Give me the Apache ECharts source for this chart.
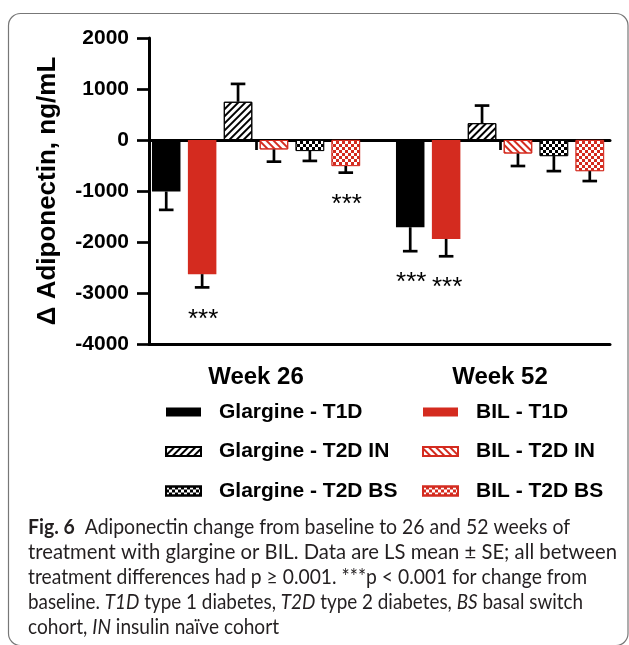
<!DOCTYPE html>
<html lang="en">
<head>
<meta charset="UTF-8">
<title>Adiponectin change</title>
<style>
  html, body { margin: 0; padding: 0; background: #fff; }
  #chart { width: 629px; height: 645px; }
</style>
</head>
<body>
<div id="chart"></div>
<script src="https://cdn.jsdelivr.net/npm/echarts@6/dist/echarts.min.js"></script>
<script>
// categories
const weeks = ['Week 26', 'Week 52'];
const groups = ['Glargine - T1D', 'BIL - T1D', 'Glargine - T2D IN', 'BIL - T2D IN', 'Glargine - T2D BS', 'BIL - T2D BS'];

// LS mean change from baseline, ng/mL  [week 26, week 52]
const glaT1D = [-1010, -1710];
const bilT1D = [-2630, -1940];
const glaIN  = [750, 330];
const bilIN  = [-185, -265];
const glaBS  = [-215, -315];
const bilBS  = [-510, -610];

// standard errors
const seGlaT1D = [360, 470];
const seBilT1D = [260, 340];
const seGlaIN  = [350, 345];
const seBilIN  = [240, 245];
const seGlaBS  = [195, 295];
const seBilBS  = [130, 195];

// *** p < 0.001 vs baseline
const sigGlaT1D = [0, 1];
const sigBilT1D = [1, 1];
const sigGlaIN  = [0, 0];
const sigBilIN  = [0, 0];
const sigGlaBS  = [0, 0];
const sigBilBS  = [1, 0];

const yTicks = [-4000, -3000, -2000, -1000, 0, 1000, 2000];

const means = [glaT1D, bilT1D, glaIN, bilIN, glaBS, bilBS];
const ses = [seGlaT1D, seBilT1D, seGlaIN, seBilIN, seGlaBS, seBilBS];
const sigs = [sigGlaT1D, sigBilT1D, sigGlaIN, sigBilIN, sigGlaBS, sigBilBS];

const RED = '#d42b1f';
const FONT = '"Liberation Sans", Arial, sans-serif';
const BAR_W = 28.5;
const BAR_GAP = 0.26;
const STEP = BAR_W * (1 + BAR_GAP);

function hatch(color, rot, dash) {
  return { symbol: 'rect', symbolSize: 1, dashArrayX: [1, 0], dashArrayY: dash, rotation: rot, color: color };
}
function checker(color) {
  return { symbol: 'rect', symbolSize: 1, dashArrayX: [[3, 3], [0, 3, 3, 0]], dashArrayY: [3, 0], color: color };
}
const styles = [
  { color: '#000' },
  { color: RED },
  { color: '#fff', borderColor: '#000', borderWidth: 1, decal: hatch('#000', -Math.PI / 4, [1.6, 2.4]) },
  { color: '#fff', borderColor: RED, borderWidth: 1, decal: hatch(RED, Math.PI / 4, [1.8, 2.4]) },
  { color: '#fff', borderColor: '#000', borderWidth: 0.8, decal: checker('#000') },
  { color: '#fff', borderColor: RED, borderWidth: 0.8, decal: checker(RED) }
];

const errData = [];
means.forEach(function (m, i) {
  m.forEach(function (v, j) {
    errData.push([j, v, ses[i][j], i, sigs[i][j]]);
  });
});

const chart = echarts.init(document.getElementById('chart'));

const barSeries = means.map(function (m, i) {
  return {
    name: groups[i],
    type: 'bar',
    xAxisIndex: 0,
    yAxisIndex: 0,
    data: m,
    barWidth: BAR_W,
    barGap: (BAR_GAP * 100) + '%',
    itemStyle: styles[i],
    emphasis: { disabled: true }
  };
});

const errSeries = {
  type: 'custom',
  name: 'SE',
  xAxisIndex: 0,
  yAxisIndex: 0,
  z: 5,
  silent: true,
  data: errData,
  renderItem: function (params, api) {
    const j = api.value(0), v = api.value(1), se = api.value(2), i = api.value(3), sig = api.value(4);
    const end = v >= 0 ? v + se : v - se;
    const p0 = api.coord([j, v]);
    const p1 = api.coord([j, end]);
    const x = p0[0] + (i - 2.5) * STEP;
    const line = { stroke: '#000', lineWidth: 2.7 };
    const kids = [
      { type: 'line', shape: { x1: x, y1: p0[1], x2: x, y2: p1[1] }, style: line },
      { type: 'line', shape: { x1: x - 7.3, y1: p1[1], x2: x + 7.3, y2: p1[1] }, style: line }
    ];
    if (sig) {
      kids.push({
        type: 'text', x: x + 1, y: p1[1] + 32,
        style: { text: '***', fill: '#000', font: '26px ' + FONT, align: 'center', verticalAlign: 'middle' }
      });
    }
    return { type: 'group', children: kids };
  }
};

const legendText = { color: '#000', fontFamily: FONT, fontWeight: 'bold', fontSize: 21, lineHeight: 22, padding: [0, 0, 0, 13] };

// caption, each line squeezed to the width it has in the figure
const capFont = 'Lato, "Open Sans", sans-serif';
const capLines = [
  '{b|Fig. 6}  Adiponectin change from baseline to 26 and 52 weeks of',
  'treatment with glargine or BIL. Data are LS mean \u00b1 SE; all between',
  'treatment differences had p \u2265 0.001. ***p < 0.001 for change from',
  'baseline. {i|T1D} type 1 diabetes, {i|T2D} type 2 diabetes, {i|BS} basal switch',
  'cohort, {i|IN} insulin na\u00efve cohort'
];
const capRight = [570, 617, 587, 583, 279];
const capLeft = 28;
const capSize = '21px ';
const ctx = document.createElement('canvas').getContext('2d');
function richWidth(t) {
  let w = 0;
  t.replace(/\{(\w)\|([^}]*)\}|([^{]+)/g, function (all, tag, inner, plain) {
    ctx.font = (tag === 'b' ? 'bold ' : tag === 'i' ? 'italic ' : '') + capSize + capFont;
    w += ctx.measureText(tag ? inner : plain).width;
    return all;
  });
  return w;
}
const capGraphics = capLines.map(function (t, k) {
  return {
    type: 'text', x: capLeft, y: 527 + k * 25, scaleX: (capRight[k] - capLeft) / richWidth(t), silent: true,
    style: {
      text: t, fill: '#231f20', font: capSize + capFont, verticalAlign: 'middle',
      rich: {
        b: { font: 'bold ' + capSize + capFont, fill: '#231f20' },
        i: { font: 'italic ' + capSize + capFont, fill: '#231f20' }
      }
    }
  };
});

const axisLineStyle = { color: '#000', width: 3 };

chart.setOption({
  animation: false,
  backgroundColor: '#fff',
  grid: [
    { left: 134, top: 38, width: 488, height: 306 },
    { left: 149, top: 38, width: 461, height: 306 }
  ],
  legend: [
    {
      orient: 'vertical', left: 160, top: 396, itemWidth: 35, itemHeight: 9, itemGap: 17.5,
      selectedMode: false, icon: 'rect', textStyle: legendText,
      data: [groups[0], groups[2], groups[4]]
    },
    {
      orient: 'vertical', left: 417, top: 396, itemWidth: 35, itemHeight: 9, itemGap: 17.5,
      selectedMode: false, icon: 'rect', textStyle: legendText,
      data: [groups[1], groups[3], groups[5]]
    }
  ],
  xAxis: [
    {
      type: 'category', gridIndex: 0, data: weeks,
      axisLine: { show: false },
      axisTick: { show: true, alignWithLabel: true, length: 10, lineStyle: { color: '#000', width: 2.7 } },
      axisLabel: { margin: 21, color: '#000', fontFamily: FONT, fontWeight: 'bold', fontSize: 24 },
      splitLine: { show: false }
    },
    {
      type: 'value', gridIndex: 1, min: 0, max: 1, position: 'bottom',
      axisLine: { show: true, onZero: false, lineStyle: axisLineStyle },
      axisTick: { show: false }, axisLabel: { show: false }, splitLine: { show: false }
    },
    {
      type: 'value', gridIndex: 1, min: 0, max: 1, position: 'top',
      axisLine: { show: true, onZero: true, lineStyle: axisLineStyle },
      axisTick: { show: false }, axisLabel: { show: false }, splitLine: { show: false }
    }
  ],
  yAxis: [
    { type: 'value', gridIndex: 0, min: yTicks[0], max: yTicks[yTicks.length - 1], show: false },
    {
      type: 'value', gridIndex: 1, min: yTicks[0], max: yTicks[yTicks.length - 1], interval: 1000,
      name: '\u0394 Adiponectin, ng/mL', nameLocation: 'middle', nameGap: 88,
      nameTextStyle: { color: '#000', fontFamily: FONT, fontWeight: 'bold', fontSize: 26 },
      axisLine: { show: true, onZero: false, lineStyle: axisLineStyle },
      axisTick: { show: true, length: 12, lineStyle: { color: '#000', width: 2.7 } },
      axisLabel: {
        margin: 20, color: '#000', fontFamily: FONT, fontWeight: 'bold', fontSize: 21,
        formatter: function (v) { return String(v); }
      },
      splitLine: { show: false }
    }
  ],
  series: barSeries.concat([errSeries]),
  graphic: [
    {
      type: 'rect', silent: true, z: -1,
      shape: { x: 8.5, y: 13.5, width: 619.5, height: 632, r: 12 },
      style: { fill: 'none', stroke: '#777', lineWidth: 1.2 }
    }
  ].concat(capGraphics)
});
</script>
</body>
</html>
